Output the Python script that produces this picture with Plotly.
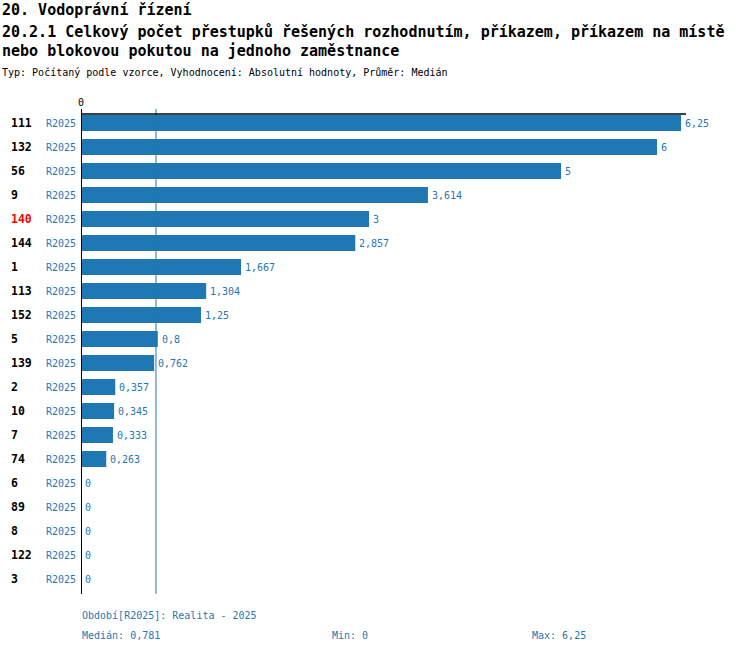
import plotly.graph_objects as go

# data
ids = ["111", "132", "56", "9", "140", "144", "1", "113", "152", "5",
       "139", "2", "10", "7", "74", "6", "89", "8", "122", "3"]
values = [6.25, 6, 5, 3.614, 3, 2.857, 1.667, 1.304, 1.25, 0.8,
          0.762, 0.357, 0.345, 0.333, 0.263, 0, 0, 0, 0, 0]
period = "R2025"
highlight = "140"
median = 0.781
vmin = 0
vmax = 6.25

BLUE = "#1f77b4"
MONO = "DejaVu Sans Mono"

# plot area in pixels
L, R, T, B = 81, 686, 114, 594
W, H = 750, 654


def px_x(p):
    return (p - L) / (R - L)


def px_y(p):
    return (B - p) / (B - T)


def fmt(v):
    return f"{v:g}".replace(".", ",")


pos = list(range(len(ids)))

fig = go.Figure()
fig.add_trace(go.Bar(
    x=values, y=pos, orientation="h",
    marker=dict(color=BLUE, line=dict(width=0)),
    offset=-0.5 + 1 / 24, width=16 / 24,
    hoverinfo="x",
))

ann = []
# titles
ann.append(dict(text="20. Vodoprávní řízení", x=px_x(0), y=px_y(10),
                font=dict(size=15, family=MONO, color="black", weight="bold")))
ann.append(dict(text="20.2.1 Celkový počet přestupků řešených rozhodnutím, příkazem, příkazem na místě",
                x=px_x(0), y=px_y(32),
                font=dict(size=15, family=MONO, color="black", weight="bold")))
ann.append(dict(text="nebo blokovou pokutou na jednoho zaměstnance", x=px_x(0), y=px_y(51),
                font=dict(size=15, family=MONO, color="black", weight="bold")))
ann.append(dict(text="Typ: Počítaný podle vzorce, Vyhodnocení: Absolutní hodnoty, Průměr: Medián",
                x=px_x(0), y=px_y(73),
                font=dict(size=10, family=MONO, color="black")))
for a in ann:
    a.update(xref="paper", yref="paper", xanchor="left", yanchor="middle",
             showarrow=False)

# zero label above the axis
ann.append(dict(text="0", xref="x", yref="paper", x=0, y=px_y(102),
                xanchor="center", yanchor="middle", showarrow=False,
                font=dict(size=10, family=MONO, color="black")))

# row labels and value labels
for i, (k, v) in enumerate(zip(ids, values)):
    yc = i - 0.5 + 9 / 24
    ann.append(dict(text=k, xref="paper", yref="y", x=px_x(9), y=yc,
                    xanchor="left", yanchor="middle", showarrow=False,
                    font=dict(size=11.5, family=MONO, weight="bold",
                              color="red" if k == highlight else "black")))
    ann.append(dict(text=period, xref="paper", yref="y", x=px_x(78), y=yc,
                    xanchor="right", yanchor="middle", showarrow=False,
                    font=dict(size=10, family=MONO, color=BLUE)))
    ann.append(dict(text=fmt(v), xref="x", yref="y", x=v, y=yc, xshift=2,
                    xanchor="left", yanchor="middle", showarrow=False,
                    font=dict(size=10, family=MONO, color=BLUE)))

# footer
foot = [
    (f"Období[{period}]: Realita - 2025", 80, 615),
    (f"Medián: {fmt(median)}", 80, 635),
    (f"Min: {fmt(vmin)}", 330, 635),
    (f"Max: {fmt(vmax)}", 530, 635),
]
for t, xp, yp in foot:
    ann.append(dict(text=t, xref="paper", yref="paper", x=px_x(xp), y=px_y(yp),
                    xanchor="left", yanchor="middle", showarrow=False,
                    font=dict(size=10, family=MONO, color=BLUE)))

shapes = [
    # median line
    dict(type="line", xref="x", yref="paper", x0=median, x1=median,
         y0=0, y1=px_y(109), line=dict(color=BLUE, width=1)),
    # top line
    dict(type="line", xref="paper", yref="paper", x0=0, x1=1, y0=1, y1=1,
         line=dict(color="black", width=1.5)),
    # zero axis
    dict(type="line", xref="x", yref="paper", x0=0, x1=0, y0=0, y1=px_y(109),
         line=dict(color="black", width=2)),
]

fig.update_layout(
    width=W, height=H,
    margin=dict(l=L, r=W - R, t=T, b=H - B, pad=0),
    paper_bgcolor="white", plot_bgcolor="white",
    showlegend=False,
    annotations=ann, shapes=shapes,
    xaxis=dict(range=[0, vmax * (R - L) / 600], showticklabels=False,
               showgrid=False, zeroline=False, ticks="", showline=False,
               fixedrange=True),
    yaxis=dict(range=[len(ids) - 0.5, -0.5], showticklabels=False,
               showgrid=False, zeroline=False, showline=False, fixedrange=True),
)

fig.write_html("out.html", config={"displayModeBar": False},
               post_script="document.body.style.margin='0';"
                           "document.body.style.overflow='hidden';")
